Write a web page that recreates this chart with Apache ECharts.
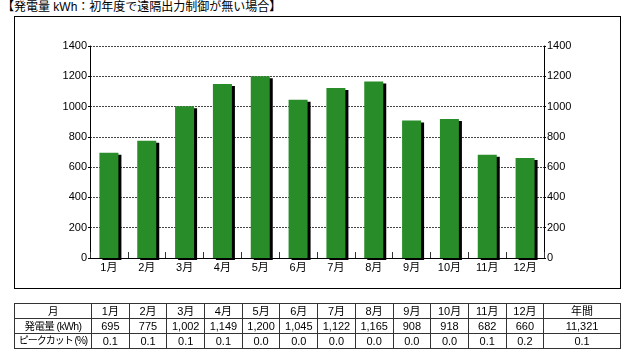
<!DOCTYPE html>
<html>
<head>
<meta charset="utf-8">
<script src="https://cdn.jsdelivr.net/npm/echarts@6/dist/echarts.min.js"></script>
<style>
  html, body { margin: 0; padding: 0; background: #fff; }
  #wrap { position: relative; width: 638px; height: 361px; overflow: hidden; font-family: "Liberation Sans", Arial, "Noto Sans CJK JP", sans-serif; }
  #title { position: absolute; left: 2px; top: 0px; font-size: 12px; line-height: 14px; color: #000; font-family: "Liberation Sans", "Noto Sans CJK JP", sans-serif; white-space: nowrap; }
  #frame { position: absolute; left: 14px; top: 16px; width: 605px; height: 271px; border: 1px solid #000; }
  #chart { position: absolute; left: 0; top: 0; width: 638px; height: 361px; }
  #tbl { position: absolute; left: 14px; top: 303px; border-collapse: collapse; table-layout: fixed; width: 606px; font-size: 11px; color: #000; }
  #tbl td { border: 1px solid #333; padding: 0; height: 14px; line-height: 14px; text-align: center; white-space: nowrap; overflow: visible; }
  #tbl td.rh { letter-spacing: -0.6px; font-size: 10.5px; }
  #tbl td.rh2 { letter-spacing: -1px; font-size: 10px; }
</style>
</head>
<body>
<div id="wrap">
  <div id="title"></div>
  <div id="frame"></div>
  <div id="chart"></div>
  <table id="tbl"></table>
</div>
<script>
const titleText = "【発電量 kWh：初年度で遠隔出力制御が無い場合】";
const months = ["1月","2月","3月","4月","5月","6月","7月","8月","9月","10月","11月","12月"];
const generation = [695, 775, 1002, 1149, 1200, 1045, 1122, 1165, 908, 918, 682, 660];
const annualTotal = 11321;
const peakCut = ["0.1","0.1","0.1","0.1","0.0","0.0","0.0","0.0","0.0","0.0","0.1","0.2"];
const peakCutAnnual = "0.1";
const rowHeaders = ["月", "発電量 (kWh)", "ピークカット (%)"];
const annualHeader = "年間";
const yTicks = [0, 200, 400, 600, 800, 1000, 1200, 1400];

document.getElementById('title').textContent = titleText;

// Table
const fmt = v => v.toLocaleString('en-US');
const tbl = document.getElementById('tbl');
const cg = document.createElement('colgroup');
const widths = [77].concat(months.map(() => 37.7)).concat([76.6]);
widths.forEach(w => { const c = document.createElement('col'); c.style.width = w + 'px'; cg.appendChild(c); });
tbl.appendChild(cg);
const rows = [
  [rowHeaders[0]].concat(months).concat([annualHeader]),
  [rowHeaders[1]].concat(generation.map(fmt)).concat([fmt(annualTotal)]),
  [rowHeaders[2]].concat(peakCut).concat([peakCutAnnual])
];
rows.forEach((r, ri) => {
  const tr = document.createElement('tr');
  r.forEach((v, i) => { const td = document.createElement('td'); td.textContent = v; if (i === 0) td.className = ri === 2 ? 'rh2' : 'rh'; tr.appendChild(td); });
  tbl.appendChild(tr);
});

const chart = echarts.init(document.getElementById('chart'), null, { renderer: 'canvas' });
const yMin = yTicks[0], yMax = yTicks[yTicks.length - 1], yStep = yTicks[1] - yTicks[0];
const yAxisCommon = {
  type: 'value', min: yMin, max: yMax, interval: yStep,
  axisLine: { show: true, lineStyle: { color: '#000', width: 1 } },
  axisTick: { show: true, length: 2, lineStyle: { color: '#000' } },
  axisLabel: { color: '#000', fontSize: 11, fontFamily: '"Liberation Sans", Arial, sans-serif', margin: 3, formatter: v => String(v) }
};
chart.setOption({
  animation: false,
  backgroundColor: 'transparent',
  grid: { left: 90, right: 94, top: 46, bottom: 103, containLabel: false },
  xAxis: [{
    type: 'category', data: months, position: 'bottom',
    axisLine: { show: true, lineStyle: { color: '#000', width: 1 } },
    axisTick: { show: true, inside: true, length: 6, alignWithLabel: false, lineStyle: { color: '#333' } },
    axisLabel: { color: '#000', fontSize: 11, margin: 4, fontFamily: '"Liberation Sans", Arial, "Noto Sans CJK JP", sans-serif' }
  }, {
    type: 'category', data: months, position: 'top',
    axisLine: { show: true, lineStyle: { color: '#000', width: 1 } },
    axisTick: { show: false }, axisLabel: { show: false }
  }],
  yAxis: [
    Object.assign({}, yAxisCommon, { position: 'left',
      splitLine: { show: true, lineStyle: { color: '#444', type: [2, 1], width: 1 } } }),
    Object.assign({}, yAxisCommon, { position: 'right', splitLine: { show: false } })
  ],
  series: [{
    type: 'bar', data: generation, barWidth: 19,
    itemStyle: { color: '#288c28', shadowColor: '#000', shadowBlur: 0, shadowOffsetX: 3, shadowOffsetY: 2 }
  }]
});
</script>
</body>
</html>
